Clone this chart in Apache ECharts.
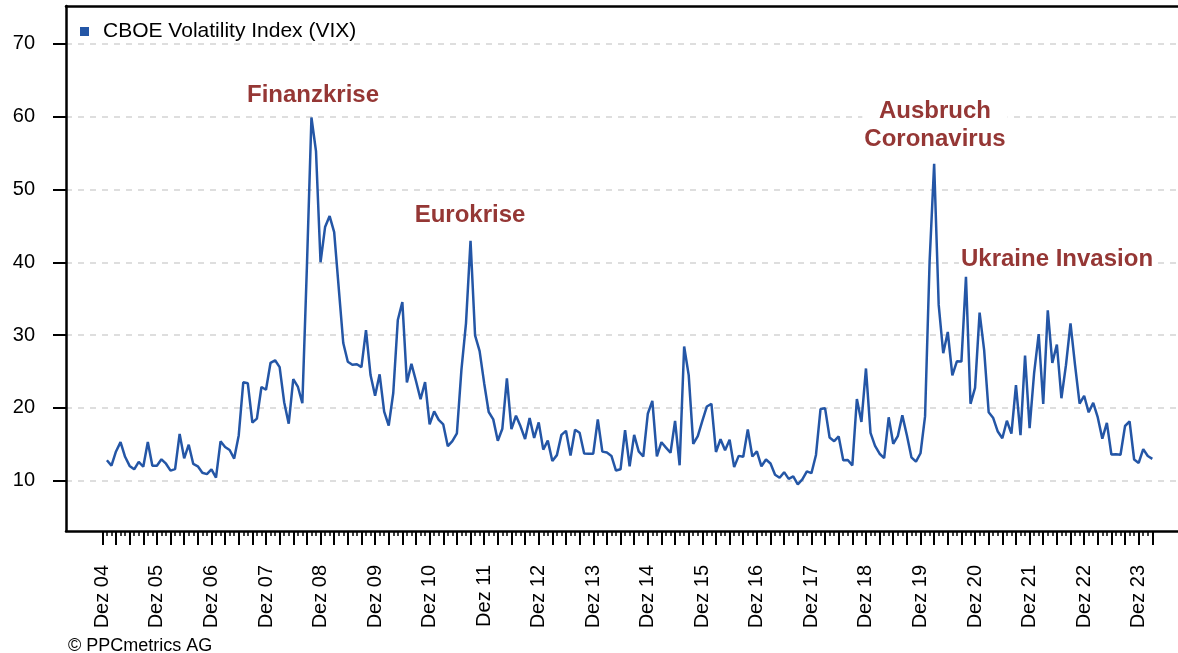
<!DOCTYPE html>
<html>
<head>
<meta charset="utf-8">
<title>VIX</title>
<script src="https://cdn.jsdelivr.net/npm/echarts@6/dist/echarts.min.js"></script>
<style>
html,body{margin:0;padding:0;background:#fff;}
#chart{width:1178px;height:653px;}
</style>
</head>
<body>
<div id="chart"></div>
<script>
// Monatsende-Werte VIX, Jan 05 bis Mär 24 (Index 1..231, Index 0 = Dez 04)
var vix = [
    12.82, 12.08, 14.02, 15.31, 13.29, 12.04, 11.57, 12.60, 11.92, 15.32, 12.06, 12.07, // 2005
    12.95, 12.34, 11.39, 11.59, 16.44, 13.08, 14.95, 12.31, 11.98, 11.10, 10.91, 11.56, // 2006
    10.42, 15.42, 14.64, 14.22, 13.05, 16.23, 23.52, 23.38, 18.00, 18.53, 22.87, 22.50, // 2007
    26.20, 26.54, 25.61, 20.79, 17.83, 23.95, 22.94, 20.65, 39.39, 59.89, 55.28, 40.00, // 2008
    44.84, 46.35, 44.14, 36.50, 28.92, 26.35, 25.92, 26.01, 25.61, 30.69, 24.51, 21.68, // 2009
    24.62, 19.50, 17.59, 22.05, 32.07, 34.54, 23.50, 26.05, 23.70, 21.20, 23.54, 17.75, // 2010
    19.53, 18.35, 17.74, 14.75, 15.45, 16.52, 25.25, 31.62, 42.96, 29.96, 27.80, 23.40, // 2011
    19.44, 18.43, 15.50, 17.15, 24.06, 17.08, 18.93, 17.47, 15.73, 18.60, 15.87, 18.02, // 2012
    14.28, 15.51, 12.70, 13.52, 16.30, 16.86, 13.45, 17.01, 16.60, 13.75, 13.70, 13.72, // 2013
    18.41, 14.00, 13.88, 13.41, 11.40, 11.57, 16.95, 11.98, 16.31, 14.03, 13.33, 19.20, // 2014
    20.97, 13.34, 15.29, 14.55, 13.84, 18.23, 12.12, 28.43, 24.50, 15.07, 16.13, 18.21, // 2015
    20.20, 20.55, 13.95, 15.70, 14.19, 15.63, 11.87, 13.42, 13.29, 17.06, 13.33, 14.04, // 2016
    11.99, 12.92, 12.37, 10.82, 10.41, 11.18, 10.26, 10.59, 9.51, 10.18, 11.28, 11.04,  // 2017
    13.54, 19.85, 19.97, 15.93, 15.43, 16.09, 12.83, 12.86, 12.12, 21.23, 18.07, 25.42, // 2018
    16.57, 14.78, 13.71, 13.12, 18.71, 15.08, 16.12, 18.98, 16.24, 13.22, 12.62, 13.78, // 2019
    18.84, 40.11, 53.54, 34.15, 27.51, 30.43, 24.46, 26.41, 26.37, 38.02, 20.57, 22.75, // 2020
    33.09, 27.95, 19.40, 18.61, 16.76, 15.83, 18.24, 16.48, 23.14, 16.26, 27.19, 17.22, // 2021
    24.83, 30.15, 20.56, 33.40, 26.19, 28.71, 21.33, 25.87, 31.62, 25.88, 20.58, 21.67, // 2022
    19.40, 20.70, 18.70, 15.78, 17.94, 13.59, 13.63, 13.57, 17.52, 18.14, 12.92, 12.45, // 2023
    14.35, 13.40, 13.01                                                                  // 2024
];
var monthNames = ['Jan','Feb','Mär','Apr','Mai','Jun','Jul','Aug','Sep','Okt','Nov','Dez'];
var yTicks = [10, 20, 30, 40, 50, 60, 70];

// Kategorien: Dez 04 .. Mär 24
var months = ['Dez 04'];
for (var i = 0; i < vix.length; i++) {
    var yy = 5 + Math.floor(i / 12);
    months.push(monthNames[i % 12] + ' ' + (yy < 10 ? '0' + yy : yy));
}
var allIdx = [], quarterIdx = [], decIdx = [];
for (var k = 0; k < months.length; k++) {
    allIdx.push(k);
    if (k % 3 === 0) quarterIdx.push(k);
    if (k % 12 === 0) decIdx.push(k);
}
var lineData = vix.map(function (v, j) { return [j + 1, v]; });

var FONT = '"Liberation Sans", Arial, sans-serif';
var RED = '#953735';
var xMin = -8, xMax = 236.65;

// Beschriftung der Krisen
var note = function (txt, x, y) {
    return {
        type: 'text', x: x, y: y, z: 100,
        style: {
            text: txt, align: 'center', verticalAlign: 'middle', lineHeight: 28,
            fill: RED, font: 'bold 24px ' + FONT,
            backgroundColor: '#fff', padding: [0, 2]
        }
    };
};

var myChart = echarts.init(document.getElementById('chart'));
var option = {
    animation: false,
    backgroundColor: '#fff',
    textStyle: { fontFamily: FONT },
    grid: { left: 66, right: 0, top: 6, bottom: 122, containLabel: false, outerBoundsMode: 'none' },
    legend: {
        left: 80, top: 21, padding: 0,
        itemWidth: 9, itemHeight: 9,
        icon: 'rect',
        textStyle: { fontSize: 21, color: '#000', fontFamily: FONT, padding: [0, 0, 0, 9] },
        data: ['CBOE Volatility Index (VIX)']
    },
    xAxis: [
        {
            type: 'value', min: xMin, max: xMax, position: 'bottom',
            axisLine: { show: true, onZero: false, lineStyle: { color: '#000', width: 2.5 } },
            axisTick: { show: true, length: 5, customValues: allIdx, lineStyle: { color: '#000', width: 1.5 } },
            axisLabel: {
                show: true, customValues: decIdx, rotate: 90, margin: 34,
                fontSize: 20, color: '#000', fontFamily: FONT,
                formatter: function (v) { return months[v] || ''; }
            },
            splitLine: { show: false }
        },
        {
            type: 'value', min: xMin, max: xMax, position: 'bottom', offset: 0,
            axisLine: { show: false },
            axisTick: { show: true, length: 14, customValues: quarterIdx, lineStyle: { color: '#000', width: 2 } },
            axisLabel: { show: false },
            splitLine: { show: false }
        },
        {
            type: 'value', min: xMin, max: xMax, position: 'top',
            axisLine: { show: true, onZero: false, lineStyle: { color: '#000', width: 2.5 } },
            axisTick: { show: false },
            axisLabel: { show: false },
            splitLine: { show: false }
        }
    ],
    yAxis: {
        type: 'value', min: 3.1, max: 75.2,
        axisLine: { show: true, onZero: false, lineStyle: { color: '#000', width: 2.5 } },
        axisTick: { show: true, inside: false, length: 13, customValues: yTicks, lineStyle: { color: '#000', width: 2 } },
        axisLabel: { customValues: yTicks, margin: 31, fontSize: 20, color: '#000', fontFamily: FONT },
        splitLine: { show: true, lineStyle: { color: '#d3d3d3', width: 1.5, type: [6, 6] } }
    },
    series: [
        {
            name: 'CBOE Volatility Index (VIX)',
            type: 'line',
            xAxisIndex: 0,
            yAxisIndex: 0,
            data: lineData,
            showSymbol: false,
            symbol: 'none',
            lineStyle: { color: '#2456a6', width: 2.5 },
            itemStyle: { color: '#2456a6' }
        }
    ],
    graphic: [
        note('Finanzkrise', 313, 95),
        note('Eurokrise', 470, 215),
        note('Ausbruch\nCoronavirus', 935, 125),
        note('Ukraine Invasion', 1057, 259),
        { type: 'text', x: 68, y: 646, style: { text: '© PPCmetrics AG', align: 'left', verticalAlign: 'middle', fill: '#000', font: '18px ' + FONT } }
    ]
};
myChart.setOption(option);
</script>
</body>
</html>
